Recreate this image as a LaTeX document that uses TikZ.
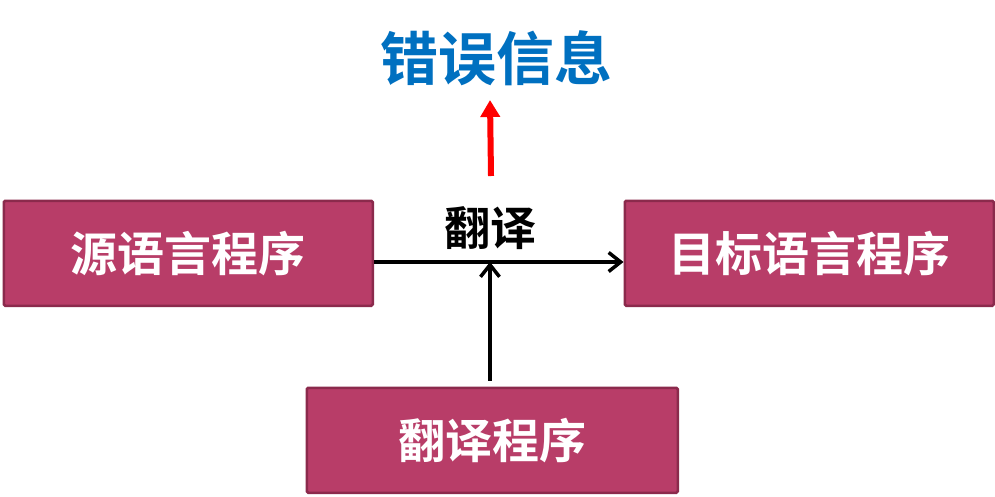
\documentclass[tikz,border=0pt]{standalone}
\usepackage{fontspec}
\newfontfamily\cjk{Noto Sans CJK SC}[BoldFont={Noto Sans CJK SC Bold}]
\usetikzlibrary{arrows.meta}
\definecolor{boxfill}{HTML}{B83D68}
\definecolor{boxline}{HTML}{8B2A4C}
\definecolor{titleblue}{HTML}{0070C0}
\tikzset{
  prog/.style={draw=boxline, line width=2.5pt, fill=boxfill, rounded corners=1.5pt,
    text=white, font=\cjk\bfseries\fontsize{47}{52}\selectfont,
    minimum height=105pt, inner sep=0pt, anchor=north west},
  conn/.style={line width=3.5pt, -{Straight Barb[length=12pt,width=19pt]}},
}
\begin{document}
\begin{tikzpicture}[x=1pt,y=-1pt]
\useasboundingbox (0,0) rectangle (995,496);
\node[prog, minimum width=369pt] (src) at (2.5,199.5) {源语言程序};
\node[prog, minimum width=369pt] (tgt) at (623.5,199.5) {目标语言程序};
\node[prog, minimum width=371pt] (trn) at (305.5,386.5) {翻译程序};
\coordinate (mid) at (490,262);
\node[font=\cjk\bfseries\fontsize{46}{50}\selectfont] (lbl) at (490,228) {翻译};
\node[font=\cjk\bfseries\fontsize{58}{64}\selectfont, text=titleblue] (err) at (496,58) {错误信息};
\coordinate (rs) at (491,176);
\coordinate (re) at (490,100);
\draw[conn] (src.east |- mid) -- (tgt.west |- mid);
\draw[conn] (trn.north -| mid) ++(0,-6) -- (mid);
\draw[red, line width=6pt, -{Triangle[length=17pt,width=19pt]}] (rs) -- (re);
\end{tikzpicture}
\end{document}
